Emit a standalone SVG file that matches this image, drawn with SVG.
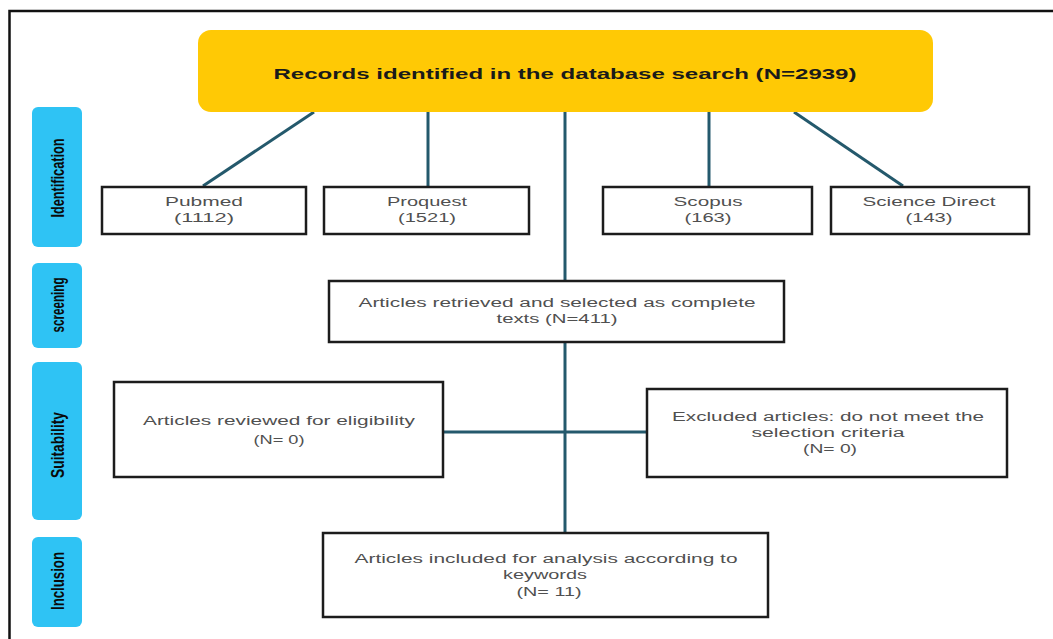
<svg xmlns="http://www.w3.org/2000/svg" width="1053" height="639" viewBox="0 0 1053 639">
<style>
.box{fill:#fff;stroke:#1c1c1c;stroke-width:2.5}
.lab{fill:#2fc3f4}
.t{font-family:"Liberation Sans",Arial,sans-serif;font-size:12.5px;fill:#505050;text-anchor:middle}
.v{font-family:"Liberation Sans",Arial,sans-serif;font-size:19px;font-weight:bold;fill:#0a0a0a;text-anchor:middle}
.c{stroke:#24596c;stroke-width:3;fill:none}
</style>
<rect width="1053" height="639" fill="#fff"/>
<path d="M9.5 639 V11 H1053" fill="none" stroke="#111" stroke-width="2.5"/>

<g id="stage-identification">
<rect class="lab" x="32" y="107" width="50" height="140" rx="6"/>
<text class="v" transform="translate(64 178) rotate(-90)" textLength="79" lengthAdjust="spacingAndGlyphs">Identification</text>
</g>
<g id="stage-screening">
<rect class="lab" x="32" y="263" width="50" height="85" rx="6"/>
<text class="v" transform="translate(64 305) rotate(-90)" textLength="55" lengthAdjust="spacingAndGlyphs">screening</text>
</g>
<g id="stage-suitability">
<rect class="lab" x="32" y="362" width="50" height="158" rx="6"/>
<text class="v" transform="translate(64 445) rotate(-90)" textLength="66" lengthAdjust="spacingAndGlyphs">Suitability</text>
</g>
<g id="stage-inclusion">
<rect class="lab" x="32" y="537" width="50" height="90" rx="6"/>
<text class="v" transform="translate(64 581) rotate(-90)" textLength="58" lengthAdjust="spacingAndGlyphs">Inclusion</text>
</g>

<g id="connectors">
<line class="c" x1="314" y1="112" x2="203" y2="186"/>
<line class="c" x1="428" y1="112" x2="428" y2="186"/>
<line class="c" x1="565" y1="112" x2="565" y2="281"/>
<line class="c" x1="709" y1="112" x2="709" y2="186"/>
<line class="c" x1="794" y1="112" x2="903" y2="186"/>
<line class="c" x1="565" y1="342" x2="565" y2="533"/>
<line class="c" x1="443" y1="432" x2="647" y2="432"/>
</g>

<g id="records">
<rect x="198" y="30" width="735" height="82" rx="13" fill="#ffc905"/>
<text x="565" y="79" font-family="Liberation Sans,Arial,sans-serif" font-size="15.5" font-weight="bold" fill="#1a1a1a" text-anchor="middle" textLength="583" lengthAdjust="spacingAndGlyphs">Records identified in the database search (N=2939)</text>
</g>

<g id="pubmed">
<rect class="box" x="102" y="187" width="204" height="47"/>
<text class="t" x="204" y="206" textLength="78" lengthAdjust="spacingAndGlyphs">Pubmed</text>
<text class="t" x="204" y="222" textLength="60" lengthAdjust="spacingAndGlyphs">(1112)</text>
</g>
<g id="proquest">
<rect class="box" x="324" y="187" width="205" height="47"/>
<text class="t" x="427" y="206" textLength="80" lengthAdjust="spacingAndGlyphs">Proquest</text>
<text class="t" x="427" y="222" textLength="58" lengthAdjust="spacingAndGlyphs">(1521)</text>
</g>
<g id="scopus">
<rect class="box" x="603" y="187" width="209" height="47"/>
<text class="t" x="708" y="206" textLength="69" lengthAdjust="spacingAndGlyphs">Scopus</text>
<text class="t" x="708" y="222" textLength="47" lengthAdjust="spacingAndGlyphs">(163)</text>
</g>
<g id="science-direct">
<rect class="box" x="831" y="187" width="198" height="47"/>
<text class="t" x="929" y="206" textLength="133" lengthAdjust="spacingAndGlyphs">Science Direct</text>
<text class="t" x="929" y="222" textLength="47" lengthAdjust="spacingAndGlyphs">(143)</text>
</g>

<g id="retrieved">
<rect class="box" x="329" y="281" width="455" height="61"/>
<text class="t" x="557" y="307" textLength="397" lengthAdjust="spacingAndGlyphs">Articles retrieved and selected as complete</text>
<text class="t" x="557" y="323" textLength="121" lengthAdjust="spacingAndGlyphs">texts (N=411)</text>
</g>

<g id="reviewed">
<rect class="box" x="114" y="382" width="329" height="95"/>
<text class="t" x="279" y="425" textLength="272" lengthAdjust="spacingAndGlyphs">Articles reviewed for eligibility</text>
<text class="t" x="279" y="444" textLength="51" lengthAdjust="spacingAndGlyphs">(N= 0)</text>
</g>

<g id="excluded">
<rect class="box" x="647" y="389" width="360" height="88"/>
<text class="t" x="828" y="421" textLength="312" lengthAdjust="spacingAndGlyphs">Excluded articles: do not meet the</text>
<text class="t" x="828" y="437" textLength="153" lengthAdjust="spacingAndGlyphs">selection criteria</text>
<text class="t" x="830" y="453" textLength="54" lengthAdjust="spacingAndGlyphs">(N= 0)</text>
</g>

<g id="included">
<rect class="box" x="323" y="533" width="445" height="84"/>
<text class="t" x="546" y="563" textLength="383" lengthAdjust="spacingAndGlyphs">Articles included for analysis according to</text>
<text class="t" x="545" y="579" textLength="84" lengthAdjust="spacingAndGlyphs">keywords</text>
<text class="t" x="549" y="596" textLength="65" lengthAdjust="spacingAndGlyphs">(N= 11)</text>
</g>
</svg>
